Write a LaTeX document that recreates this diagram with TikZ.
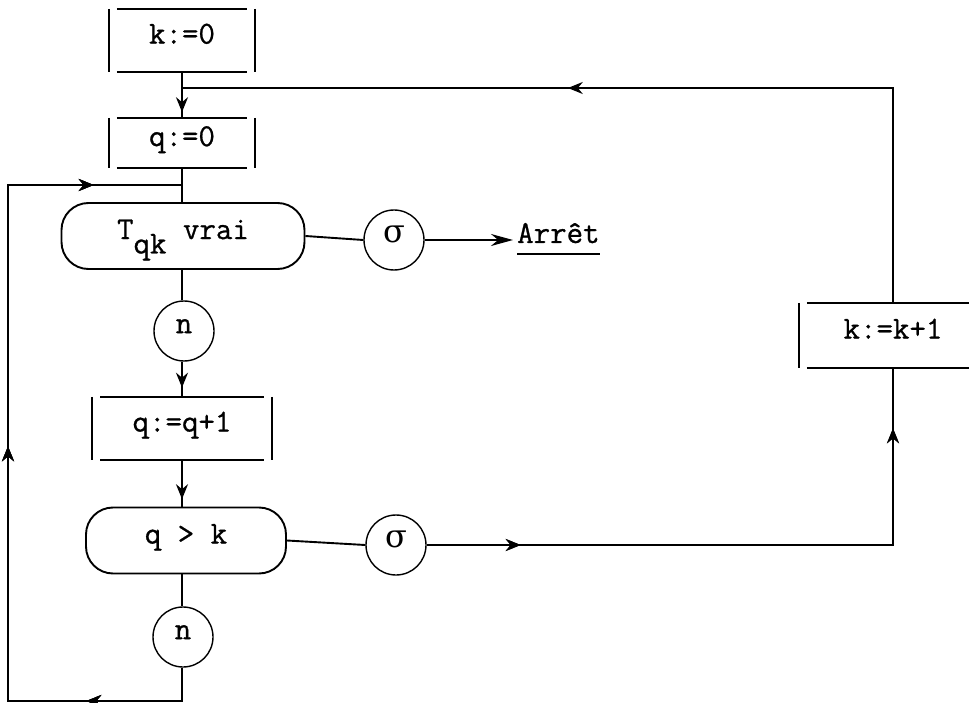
\documentclass[tikz,border=0pt]{standalone}
\usepackage{fontspec}
\setmonofont{Latin Modern Mono}[FakeBold=0.8]
\newfontfamily\grk{DejaVu Serif}
\usetikzlibrary{arrows.meta,decorations.markings}
\tikzset{
  base/.style={font=\ttfamily\fontsize{32}{34}\selectfont, inner sep=0pt, text height=0.62em, text depth=0pt},
  conn/.style={line width=1.9pt},
  assign/.style={base, minimum width=#1},
  assign/.default=130pt,
  stad/.style={base, draw, line width=1.9pt, rounded corners=27pt, minimum height=66pt},
  lab/.style={base, draw, circle, minimum size=60pt, line width=1.4pt, text height=0.43em},
  mytip/.tip={Stealth[length=15pt,width=12pt,inset=5pt]},
  arrat/.style={postaction=decorate, decoration={markings, mark=at position #1 with {\arrow{mytip}}}},
}
\newcommand\asgframe[1]{%
  \draw[conn] (#1.north west) -- (#1.north east) (#1.south west) -- (#1.south east);
  \draw[conn] ([xshift=-8pt]#1.north west) -- ([xshift=-8pt]#1.south west)
              ([xshift=8pt]#1.north east) -- ([xshift=8pt]#1.south east);}
\begin{document}
\begin{tikzpicture}[x=1pt,y=-1pt]
\clip (0,0) rectangle (969,703);
\fill[white] (0,0) rectangle (969,703);
% nodes
\node[assign, minimum height=63pt] (k0) at (182,40.5) {k:=0};
\node[assign, minimum height=50pt] (q0) at (182,143) {q:=0};
\node[stad, minimum width=243pt] (T) at (183,236) {T\raisebox{-0.45em}{qk} vrai};
\node[lab] (s1) at (394,240) {\grk σ};
\node[base, anchor=base west] (arret) at (517,243) {Arrêt};
\node[lab] (n1) at (184,331) {n};
\node[assign=163pt, minimum height=63pt] (qq1) at (182,428.5) {q:=q+1};
\node[stad, minimum width=200pt] (qk) at (186,540.5) {q > k};
\node[lab] (s2) at (396,545) {\grk σ};
\node[lab] (n2) at (183,637) {n};
\node[assign=172pt, minimum height=65pt] (kk1) at (893,335.5) {k:=k+1};
\asgframe{k0}
\asgframe{q0}
\asgframe{qq1}
\asgframe{kk1}
\draw[line width=1.4pt] ([yshift=-11pt]arret.base west) -- ([yshift=-11pt]arret.base east);
% junctions
\coordinate (j1) at (182,88);
\coordinate (j2) at (182,185);
\coordinate (cbr) at (182,701);
\coordinate (cbl) at (8,701);
\coordinate (ctl) at (8,185);
% connectors
\draw[conn, arrat=40pt] (k0.south) -- (q0.north);
\draw[conn] (q0.south) -- (T.north -| q0.south);
\draw[conn, arrat=540pt] (kk1.north) -- (kk1.north |- j1) -- (j1);
\draw[conn] (T.east) -- (s1.west);
\draw[conn, -{Stealth[length=22pt,width=12pt]}] (s1.east) -- ([xshift=-4pt]s1.east -| arret.west);
\draw[conn] (T.south -| k0.south) -- (n1.north -| k0.south);
\draw[conn, arrat=26pt] (n1.south -| k0.south) -- (qq1.north);
\draw[conn, arrat=39pt] (qq1.south) -- (qq1.south |- qk.north);
\draw[conn] (qk.south -| k0.south) -- (n2.north -| k0.south);
\draw[conn] (qk.east) -- (s2.west);
\draw[conn, arrat=94pt, arrat=583pt] (s2.east) -- (s2.east -| kk1.south) -- (kk1.south);
\draw[conn, arrat=129pt, arrat=462pt, arrat=809pt] (n2.south -| k0.south) -- (cbr) -- (cbl) -- (ctl) -- (j2);
\end{tikzpicture}
\end{document}
